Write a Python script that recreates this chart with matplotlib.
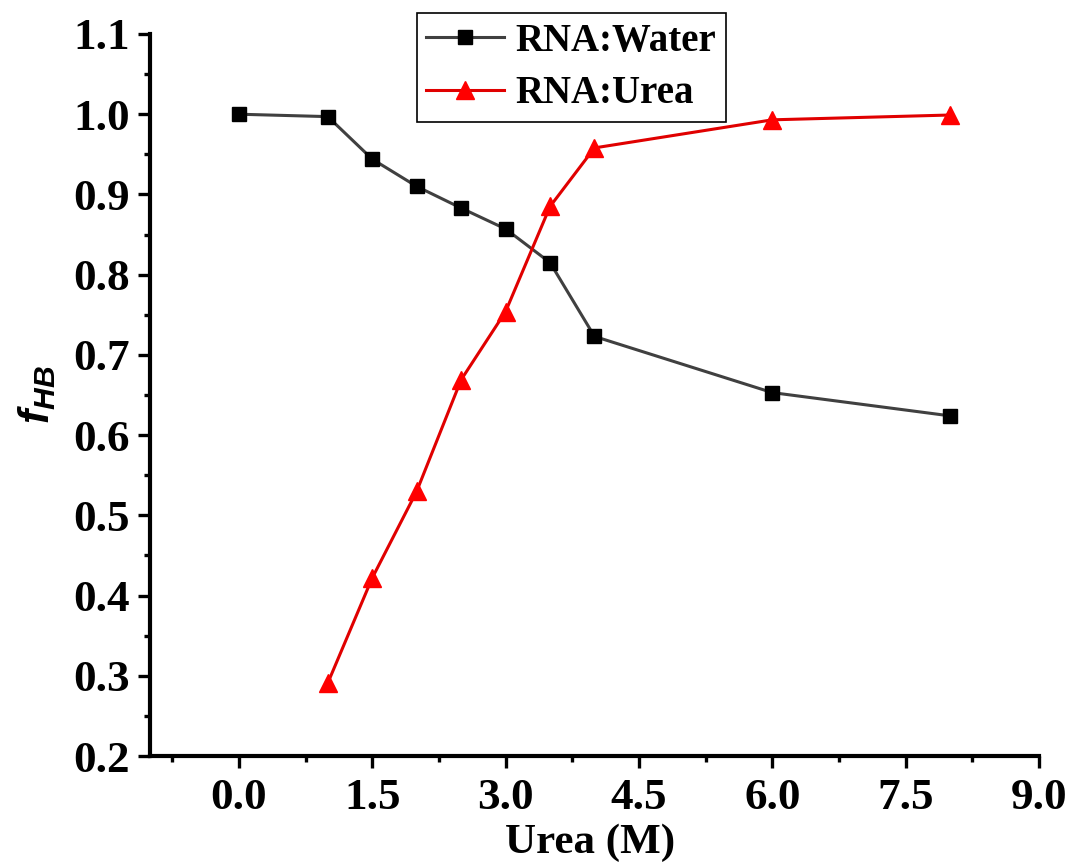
import matplotlib
matplotlib.use("Agg")
import matplotlib.pyplot as plt
from matplotlib.ticker import MultipleLocator, FormatStrFormatter

# Urea concentration (M) and hydrogen-bond fractions
urea_water_x = [0.0, 1.0, 1.5, 2.0, 2.5, 3.0, 3.5, 4.0, 6.0, 8.0]
rna_water = [1.000, 0.997, 0.944, 0.910, 0.883, 0.857, 0.815, 0.723, 0.653, 0.624]

urea_urea_x = [1.0, 1.5, 2.0, 2.5, 3.0, 3.5, 4.0, 6.0, 8.0]
rna_urea = [0.291, 0.422, 0.530, 0.669, 0.754, 0.885, 0.958, 0.993, 0.999]

x_ticks = [0.0, 1.5, 3.0, 4.5, 6.0, 7.5, 9.0]
series_labels = ["RNA:Water", "RNA:Urea"]
x_label = "Urea (M)"
y_label = r"$f_{HB}$"

plt.rcParams["font.family"] = ["Liberation Serif", "DejaVu Serif"]
plt.rcParams["font.weight"] = "bold"
plt.rcParams["mathtext.fontset"] = "custom"
plt.rcParams["mathtext.it"] = "Liberation Sans:italic:bold"
plt.rcParams["mathtext.rm"] = "Liberation Sans:bold"

fig = plt.figure(figsize=(10.73, 8.67), dpi=100)
ax = fig.add_axes([0.1398, 0.128, 0.9683 - 0.1398, 0.9608 - 0.128])

ax.plot(urea_water_x, rna_water, color="#404040", lw=2.2, marker="s",
        markersize=10.5, markerfacecolor="black", markeredgecolor="black",
        label=series_labels[0])
ax.plot(urea_urea_x, rna_urea, color="#e00000", lw=2.2, marker="^",
        markersize=13, markerfacecolor="#ff0000", markeredgecolor="#ff0000",
        label=series_labels[1])

ax.set_xlim(-1.0, 9.0)
ax.set_ylim(0.2, 1.1)
ax.set_xticks(x_ticks)
ax.xaxis.set_minor_locator(MultipleLocator(0.75))
ax.yaxis.set_major_locator(MultipleLocator(0.1))
ax.yaxis.set_minor_locator(MultipleLocator(0.05))
ax.xaxis.set_major_formatter(FormatStrFormatter("%.1f"))
ax.yaxis.set_major_formatter(FormatStrFormatter("%.1f"))

for side in ("top", "right"):
    ax.spines[side].set_visible(False)
for side in ("left", "bottom"):
    ax.spines[side].set_linewidth(3)

ax.tick_params(which="major", direction="out", length=8.5, width=2.4,
               labelsize=32.5)
ax.tick_params(axis="x", which="major", pad=7.5)
ax.tick_params(axis="y", which="major", pad=6)
ax.tick_params(which="minor", direction="out", length=4, width=2.4)
for lbl in ax.get_xticklabels() + ax.get_yticklabels():
    lbl.set_fontweight("bold")

ax.set_xlabel(x_label, fontsize=31, fontweight="bold")
ax.xaxis.label.set_va("baseline")
ax.xaxis.set_label_coords(0.495, -0.1343)

ax.set_ylabel(y_label, fontsize=31)
ax.yaxis.label.set_va("center")
ax.yaxis.set_label_coords(-0.127, 0.5)

leg = ax.legend(loc="upper center", bbox_to_anchor=(0.5326, 0.985),
                bbox_transform=fig.transFigure, fontsize=28, frameon=True,
                fancybox=False, edgecolor="black", framealpha=1,
                handlelength=2.0, handletextpad=0.3, borderpad=0.25,
                labelspacing=0.4, borderaxespad=0)
leg.get_frame().set_linewidth(1.2)
for t in leg.get_texts():
    t.set_fontweight("bold")

fig.savefig("out.png", dpi=100)
